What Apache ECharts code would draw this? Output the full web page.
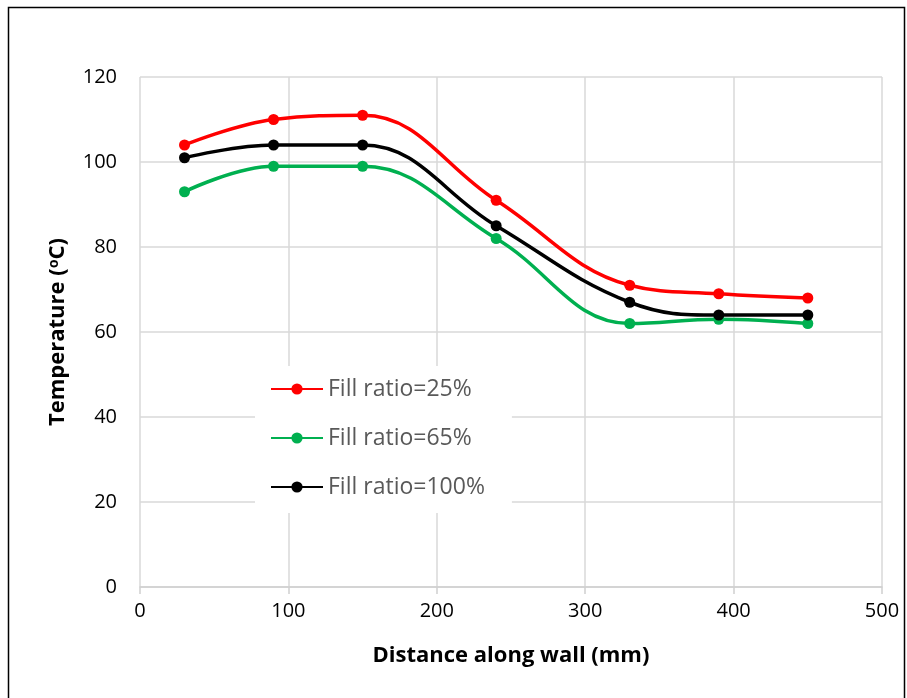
<!DOCTYPE html>
<html>
<head>
<meta charset="utf-8">
<script src="https://cdn.jsdelivr.net/npm/echarts@6/dist/echarts.min.js"></script>
<style>
  html, body { margin: 0; padding: 0; background: #fff; }
  #main { width: 907px; height: 698px; }
</style>
</head>
<body>
<div id="main"></div>
<script>
// distance along wall (mm)
const distance = [30, 90, 150, 240, 330, 390, 450];
// temperatures (°C) per fill ratio
const fill25 = [104, 110, 111, 91, 71, 69, 68];
const fill65 = [93, 99, 99, 82, 62, 63, 62];
const fill100 = [101, 104, 104, 85, 67, 64, 64];
const seriesNames = ['Fill ratio=25%', 'Fill ratio=65%', 'Fill ratio=100%'];
const seriesColors = ['#ff0000', '#00b050', '#000000'];

const font = '"Open Sans", "Noto Sans", sans-serif';

function makeSeries(name, values, color) {
  return {
    name: name,
    type: 'line',
    smooth: 0.4,
    data: distance.map((d, i) => [d, values[i]]),
    symbol: 'circle',
    symbolSize: 11,
    lineStyle: { color: color, width: 3.5 },
    itemStyle: { color: color },
    z: 3
  };
}

const chart = echarts.init(document.getElementById('main'));
chart.setOption({
  animation: false,
  backgroundColor: '#fff',
  graphic: [{
    type: 'rect',
    shape: { x: 8.5, y: 7.5, width: 896, height: 700 },
    style: { fill: 'none', stroke: '#000', lineWidth: 1.5 },
    silent: true
  }],
  grid: { left: 140, right: 25, top: 77, bottom: 111 },
  xAxis: {
    type: 'value',
    min: 0, max: 500, interval: 100,
    name: 'Distance along wall (mm)',
    nameLocation: 'middle',
    nameGap: 58,
    nameTextStyle: { fontFamily: font, fontSize: 22, fontWeight: 'bold', color: '#000' },
    axisLine: { show: true, lineStyle: { color: '#d0d0d0', width: 1.5 } },
    axisTick: { show: true, length: 7, lineStyle: { color: '#d0d0d0', width: 1.5 } },
    axisLabel: { fontFamily: font, fontSize: 20, color: '#000', margin: 14 },
    splitLine: { show: true, lineStyle: { color: '#d9d9d9', width: 1.5 } }
  },
  yAxis: {
    type: 'value',
    min: 0, max: 120, interval: 20,
    name: 'Temperature (ᵒC)',
    nameLocation: 'middle',
    nameGap: 71,
    nameTextStyle: { fontFamily: font, fontSize: 22, fontWeight: 'bold', color: '#000' },
    axisLine: { show: false },
    axisTick: { show: false },
    axisLabel: { fontFamily: font, fontSize: 20, color: '#000', margin: 23 },
    splitLine: { show: true, lineStyle: { color: '#d9d9d9', width: 1.5 } }
  },
  legend: {
    orient: 'vertical',
    left: 255,
    top: 366,
    padding: [9, 27, 12, 15],
    backgroundColor: '#fff',
    itemWidth: 52,
    itemHeight: 14,
    itemGap: 21,
    textStyle: { fontFamily: font, fontSize: 23, lineHeight: 28, color: '#595959' },
    data: seriesNames
  },
  series: [
    makeSeries(seriesNames[0], fill25, seriesColors[0]),
    makeSeries(seriesNames[1], fill65, seriesColors[1]),
    makeSeries(seriesNames[2], fill100, seriesColors[2])
  ]
});
</script>
</body>
</html>
